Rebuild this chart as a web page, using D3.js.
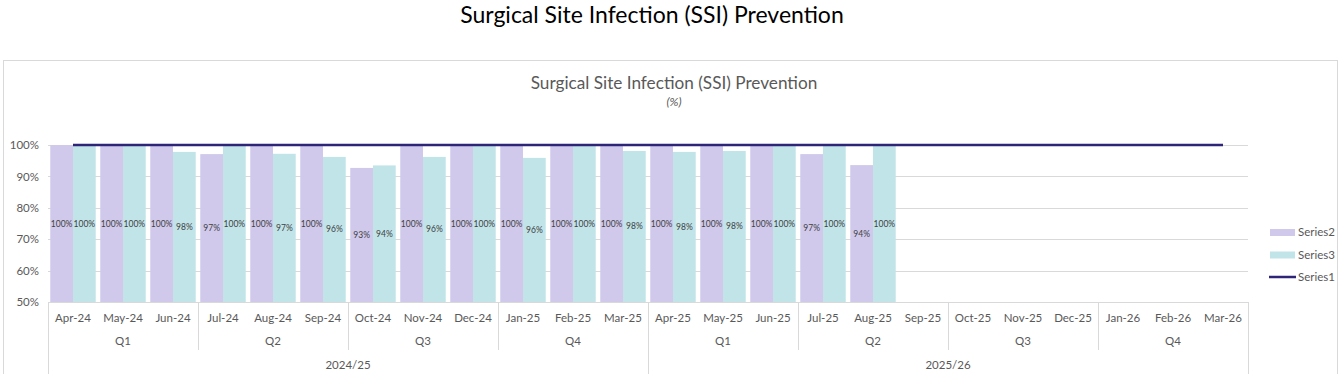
<!DOCTYPE html>
<html>
<head>
<meta charset="utf-8">
<script src="https://cdn.jsdelivr.net/npm/d3@7"></script>
<style>
  body { margin: 0; background: #fff; }
  svg { display: block; font-family: Lato, "Open Sans", sans-serif; }
</style>
</head>
<body>
<svg id="chart" width="1340" height="374"></svg>
<script>
const months = ['Apr-24','May-24','Jun-24','Jul-24','Aug-24','Sep-24','Oct-24','Nov-24','Dec-24','Jan-25','Feb-25','Mar-25',
                'Apr-25','May-25','Jun-25','Jul-25','Aug-25','Sep-25','Oct-25','Nov-25','Dec-25','Jan-26','Feb-26','Mar-26']
const quarters = ['Q1','Q2','Q3','Q4','Q1','Q2','Q3','Q4']
const years = ['2024/25','2025/26']
const series2 = [1, 1, 1, 0.971, 1, 1, 0.927, 1, 1, 1, 1, 1, 1, 1, 1, 0.971, 0.936, null, null, null, null, null, null, null]
const series3 = [1, 1, 0.978, 1, 0.972, 0.962, 0.935, 0.962, 1, 0.959, 1, 0.981, 0.978, 0.981, 1, 1, 1, null, null, null, null, null, null, null]
const series1 = months.map(() => 1)
const yTicks = [0.5, 0.6, 0.7, 0.8, 0.9, 1.0]

const svg = d3.select('#chart')
const plotLeft = 48, plotRight = 1248, plotTop = 145, plotBottom = 302

// outer title + chart frame
svg.append('text').attr('x', 652).attr('y', 23).attr('text-anchor', 'middle')
  .attr('font-size', 23).attr('fill', '#000').text('Surgical Site Infection (SSI) Prevention')
svg.append('rect').attr('x', 3.5).attr('y', 60.5).attr('width', 1334).attr('height', 330)
  .attr('fill', 'none').attr('stroke', '#d9d9d9')
svg.append('text').attr('x', 674).attr('y', 89).attr('text-anchor', 'middle')
  .attr('font-size', 17.2).attr('fill', '#595959').text('Surgical Site Infection (SSI) Prevention')
svg.append('text').attr('x', 674).attr('y', 106).attr('text-anchor', 'middle')
  .attr('font-size', 12).attr('font-style', 'italic').attr('fill', '#595959').text('(%)')

const x = d3.scaleBand().domain(months).range([plotLeft, plotRight])
const xs = d3.scaleBand().domain(['s2', 's3']).range([0, x.bandwidth()]).paddingOuter(0.1)
const y = d3.scaleLinear().domain([0.5, 1]).range([plotBottom, plotTop])

// gridlines
svg.append('g').selectAll('line').data(yTicks.slice(1)).join('line')
  .attr('x1', plotLeft).attr('x2', plotRight)
  .attr('y1', d => Math.round(y(d)) + 0.5).attr('y2', d => Math.round(y(d)) + 0.5)
  .attr('stroke', '#d9d9d9')

const yAxis = svg.append('g').attr('transform', `translate(${plotLeft - 9},0)`)
  .call(d3.axisLeft(y).tickValues(yTicks).tickFormat(d3.format('.0%')).tickSize(0).tickPadding(0))
yAxis.select('.domain').remove()
yAxis.selectAll('text').attr('font-size', 11.5).attr('fill', '#595959').attr('font-family', 'Lato, sans-serif')

// bars
const colors = { s2: '#d0c9ec', s3: '#c1e4e9' }
const fmt = d3.format('.0%')
;[['s2', series2], ['s3', series3]].forEach(([key, vals]) => {
  const g = svg.append('g')
  const data = months.map((m, i) => ({ m, v: vals[i] })).filter(d => d.v != null)
  g.selectAll('rect').data(data).join('rect')
    .attr('x', d => x(d.m) + xs(key)).attr('width', xs.bandwidth())
    .attr('y', d => y(d.v)).attr('height', d => y(0.5) - y(d.v))
    .attr('fill', colors[key])
  g.selectAll('text').data(data).join('text')
    .attr('x', d => x(d.m) + xs(key) + xs.bandwidth() / 2)
    .attr('y', d => (y(d.v) + y(0.5)) / 2 + 3)
    .attr('text-anchor', 'middle').attr('font-size', 8.5).attr('fill', '#404040')
    .text(d => fmt(d.v))
})

// target line
svg.append('path').datum(series1)
  .attr('d', d3.line().x((d, i) => x(months[i]) + x.bandwidth() / 2).y(d => y(d)))
  .attr('fill', 'none').attr('stroke', '#2e2478').attr('stroke-width', 2.5)

// multi-level category axis
const axisCol = '#d9d9d9'
svg.append('line').attr('x1', plotLeft).attr('x2', plotRight).attr('y1', plotBottom + 0.5).attr('y2', plotBottom + 0.5).attr('stroke', axisCol)
svg.append('g').selectAll('text').data(months).join('text')
  .attr('x', d => x(d) + x.bandwidth() / 2).attr('y', 322)
  .attr('text-anchor', 'middle').attr('font-size', 11.5).attr('fill', '#595959').text(d => d)
svg.append('g').selectAll('text').data(quarters).join('text')
  .attr('x', (d, i) => x(months[i * 3]) + x.bandwidth() * 1.5).attr('y', 345)
  .attr('text-anchor', 'middle').attr('font-size', 11.5).attr('fill', '#595959').text(d => d)
svg.append('g').selectAll('text').data(years).join('text')
  .attr('x', (d, i) => x(months[i * 12]) + x.bandwidth() * 6).attr('y', 369)
  .attr('text-anchor', 'middle').attr('font-size', 11.5).attr('fill', '#595959').text(d => d)
const qLines = d3.range(1, 8).filter(i => i !== 4).map(i => x(months[i * 3]))
svg.append('g').selectAll('line').data(qLines).join('line')
  .attr('x1', d => d + 0.5).attr('x2', d => d + 0.5).attr('y1', plotBottom).attr('y2', 350).attr('stroke', axisCol)
svg.append('g').selectAll('line').data([plotLeft, x(months[12]), plotRight]).join('line')
  .attr('x1', d => d + 0.5).attr('x2', d => d + 0.5).attr('y1', plotBottom).attr('y2', 374).attr('stroke', axisCol)

// legend
const legend = svg.append('g').attr('font-size', 11.5).attr('fill', '#595959')
const items = [['Series2', 'rect', colors.s2], ['Series3', 'rect', colors.s3], ['Series1', 'line', '#2e2478']]
items.forEach(([name, kind, c], i) => {
  const ly = 232 + i * 22.5
  if (kind === 'rect') legend.append('rect').attr('x', 1270).attr('y', ly - 3).attr('width', 25).attr('height', 7).attr('fill', c)
  else legend.append('line').attr('x1', 1269).attr('x2', 1296).attr('y1', ly).attr('y2', ly).attr('stroke', c).attr('stroke-width', 2.5)
  legend.append('text').attr('x', 1298).attr('y', ly + 4).attr('fill', '#595959').text(name)
})
</script>
</body>
</html>
